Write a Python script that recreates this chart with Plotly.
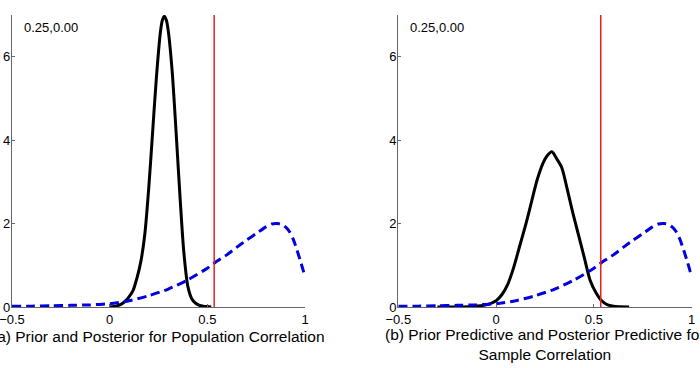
import plotly.graph_objects as go

# ---- data ----
post_x = [0.00, 0.02, 0.04, 0.06, 0.08, 0.10, 0.12, 0.14, 0.16, 0.18, 0.20, 0.22, 0.24, 0.26,
          0.27, 0.28, 0.29, 0.30, 0.32, 0.34, 0.36, 0.38, 0.40, 0.42, 0.44, 0.46, 0.48, 0.50, 0.52]
post_y = [0.00, 0.01, 0.03, 0.07, 0.14, 0.25, 0.40, 0.70, 1.10, 1.75, 2.85, 4.20, 5.55, 6.60,
          6.88, 6.97, 6.88, 6.62, 5.65, 4.20, 2.65, 1.30, 0.50, 0.20, 0.09, 0.04, 0.02, 0.01, 0.00]

prior_x = [-0.50, -0.40, -0.30, -0.20, -0.10, 0.00, 0.10, 0.20, 0.30, 0.40, 0.50, 0.55, 0.60,
           0.65, 0.70, 0.75, 0.80, 0.83, 0.86, 0.88, 0.90, 0.92, 0.94, 0.96, 0.98, 1.00]
prior_y = [0.02, 0.02, 0.03, 0.04, 0.05, 0.08, 0.15, 0.27, 0.43, 0.65, 0.93, 1.10, 1.25,
           1.43, 1.60, 1.76, 1.92, 1.99, 2.00, 1.98, 1.92, 1.81, 1.62, 1.35, 1.05, 0.73]

postpred_x = [-0.30, -0.20, -0.10, -0.05, 0.00, 0.03, 0.06, 0.09, 0.12, 0.15, 0.18, 0.21, 0.24,
              0.26, 0.285, 0.31, 0.335, 0.36, 0.39, 0.42, 0.45, 0.48, 0.51, 0.54, 0.57, 0.60, 0.68]
postpred_y = [0.00, 0.00, 0.02, 0.05, 0.15, 0.30, 0.55, 0.95, 1.45, 1.95, 2.50, 3.05, 3.45,
              3.62, 3.72, 3.55, 3.35, 2.90, 2.30, 1.75, 1.20, 0.65, 0.35, 0.15, 0.05, 0.02, 0.00]

priorpred_x = prior_x
priorpred_y = prior_y

observed_r = 0.535
y_top = 7

x_ticks = [-0.5, 0, 0.5, 1]
x_ticklabels = ["\u22120.5", "0", "0.5", "1"]
y_ticks = [0, 2, 4, 6]
y_ticklabels = ["0", "2", "4", "6"]

corner_label = "0.25,0.00"
caption_a = "(a) Prior and Posterior for Population Correlation"
caption_b = "(b) Prior Predictive and Posterior Predictive for<br>Sample Correlation"

# ---- figure ----
W, H = 700, 368
FONT = "Liberation Sans, Arial, Helvetica, sans-serif"
BLUE = "rgb(0,0,225)"

fig = go.Figure()

def add_panel(xa, ya, bx, by, dx, dy):
    fig.add_trace(go.Scatter(x=bx, y=by, mode="lines", xaxis=xa, yaxis=ya,
                             line=dict(color="black", width=3, shape="spline", smoothing=0.8),
                             showlegend=False, hoverinfo="skip"))
    fig.add_trace(go.Scatter(x=dx, y=dy, mode="lines", xaxis=xa, yaxis=ya,
                             line=dict(color=BLUE, width=3, dash="9px,5px", shape="spline", smoothing=0.6),
                             showlegend=False, hoverinfo="skip"))
    fig.add_trace(go.Scatter(x=[observed_r, observed_r], y=[0, y_top], mode="lines", xaxis=xa, yaxis=ya,
                             line=dict(color="rgb(235,30,30)", width=1.5),
                             showlegend=False, hoverinfo="skip"))

add_panel("x", "y", post_x, post_y, prior_x, prior_y)
add_panel("x2", "y2", postpred_x, postpred_y, priorpred_x, priorpred_y)

ydom = [1 - 307 / H, 1 - 15 / H]
dom1 = [12 / W, 305 / W]
dom2 = [398.3 / W, 691.7 / W]

axis_common = dict(showgrid=False, zeroline=False, showline=True, linecolor="#666", linewidth=1.2,
                   ticks="inside", ticklen=3, tickcolor="#666", tickwidth=1, automargin=False,
                   ticklabeloverflow="allow",
                   tickfont=dict(family=FONT, size=13, color="black"))

fig.update_layout(
    width=W, height=H,
    margin=dict(l=0, r=0, t=0, b=0, pad=0, autoexpand=False),
    paper_bgcolor="white", plot_bgcolor="white",
    xaxis=dict(domain=dom1, anchor="y", range=[-0.5, 1], tickvals=x_ticks, ticktext=x_ticklabels,
               ticklabelstandoff=0, **axis_common),
    yaxis=dict(domain=ydom, anchor="x", range=[0, y_top], tickvals=y_ticks, ticktext=y_ticklabels,
               ticklabelstandoff=-2, **axis_common),
    xaxis2=dict(domain=dom2, anchor="y2", range=[-0.5, 1], tickvals=x_ticks, ticktext=x_ticklabels,
                ticklabelstandoff=0, **axis_common),
    yaxis2=dict(domain=ydom, anchor="x2", range=[0, y_top], tickvals=y_ticks, ticktext=y_ticklabels,
                ticklabelstandoff=-2, **axis_common),
    annotations=[
        dict(text=corner_label, xref="paper", yref="paper", x=22 / W, y=1 - 27 / H,
             xanchor="left", yanchor="middle", showarrow=False,
             font=dict(family=FONT, size=13, color="black")),
        dict(text=corner_label, xref="paper", yref="paper", x=408 / W, y=1 - 27 / H,
             xanchor="left", yanchor="middle", showarrow=False,
             font=dict(family=FONT, size=13, color="black")),
        dict(text=caption_a, xref="paper", yref="paper", x=158.5 / W, y=1 - 336 / H,
             xanchor="center", yanchor="middle", showarrow=False,
             font=dict(family=FONT, size=15.5, color="black")),
        dict(text=caption_b, xref="paper", yref="paper", x=545 / W, y=1 - 344.5 / H,
             xanchor="center", yanchor="middle", showarrow=False,
             font=dict(family=FONT, size=15.5, color="black")),
    ],
)

fig.write_html("out.html")
